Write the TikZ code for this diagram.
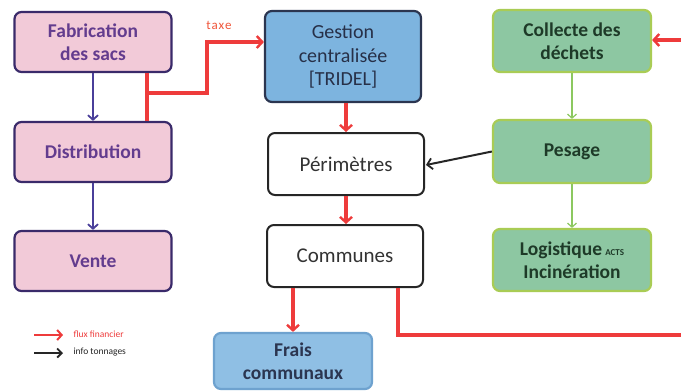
\documentclass[tikz,border=0pt]{standalone}
\usepackage{fontspec}
\setmainfont{Carlito}
\usetikzlibrary{arrows.meta}
\definecolor{pinkfill}{HTML}{F2CAD8}
\definecolor{pinkdraw}{HTML}{3A2A6A}
\definecolor{pinktext}{HTML}{633C8E}
\definecolor{bluefill}{HTML}{7DB4DF}
\definecolor{bluedraw}{HTML}{2B3550}
\definecolor{blue2fill}{HTML}{8FBFE4}
\definecolor{blue2draw}{HTML}{6EA2CF}
\definecolor{greenfill}{HTML}{8DC7A2}
\definecolor{greendraw}{HTML}{A9CC55}
\definecolor{greentext}{HTML}{1E3A28}
\definecolor{redline}{HTML}{EE3B3B}
\definecolor{taxecol}{HTML}{F0553A}
\definecolor{purpline}{HTML}{4A3F9A}
\definecolor{greenline}{HTML}{8CC860}
\begin{document}
\begin{tikzpicture}[x=1pt,y=-1pt,
  box/.style={rectangle, rounded corners=7pt, line width=2.2pt, align=center,
    minimum width=157pt, inner sep=2pt, font=\fontsize{20}{23.5}\selectfont},
  pinkbox/.style={box, fill=pinkfill, draw=pinkdraw, text=pinktext, font=\fontsize{19.5}{23}\selectfont\bfseries},
  bluebox/.style={box, fill=bluefill, draw=bluedraw, text=bluedraw!90!black},
  blue2box/.style={box, fill=blue2fill, draw=blue2draw, text=bluedraw, font=\fontsize{19.5}{23}\selectfont\bfseries},
  whitebox/.style={box, fill=white, draw=black!85, line width=2pt, text=black!80, font=\fontsize{21}{24}\selectfont},
  greenbox/.style={box, fill=greenfill, draw=greendraw, text=greentext, font=\fontsize{19.5}{23}\selectfont\bfseries},
  redarr/.style={draw=redline, line width=3.2pt, -{Straight Barb[length=5.5pt,width=12pt,line width=2.4pt]}},
  redline/.style={draw=redline, line width=3.2pt},
  purparr/.style={draw=purpline, line width=2.2pt, -{Straight Barb[length=4.5pt,width=10pt,line width=1.8pt]}},
  greenarr/.style={draw=greenline, line width=1.3pt, -{Straight Barb[length=4pt,width=9pt,line width=1.2pt]}},
  blackarr/.style={draw=black!85, line width=2pt, -{Straight Barb[length=5pt,width=11pt,line width=1.8pt]}},
]
\useasboundingbox (0,0) rectangle (681,391);
\fill[white] (0,0) rectangle (681,391);

% left column
\node[pinkbox, minimum height=60pt] (fab) at (93,42) {Fabrication\\des sacs};
\node[pinkbox, minimum height=60pt] (dist) at (93,152) {Distribution};
\node[pinkbox, minimum height=60pt] (vente) at (93,261) {Vente};

% middle column
\node[bluebox, minimum height=91pt, minimum width=156pt] (gest) at (343,56.5) {Gestion\\centralisée\\{[TRIDEL]}};
\node[whitebox, minimum height=62pt, minimum width=156pt] (peri) at (346,164) {Périmètres};
\node[whitebox, minimum height=62pt, minimum width=156pt] (comm) at (345,256) {Communes};
\node[blue2box, minimum height=56pt, minimum width=158pt] (frais) at (293,361) {Frais\\communaux};

% right column
\node[greenbox, minimum height=62pt, minimum width=158pt] (coll) at (572,41) {Collecte des\\déchets};
\node[greenbox, minimum height=63pt, minimum width=158pt] (pes) at (572,151.5) {Pesage};
\node[greenbox, minimum height=62pt, minimum width=158pt] (logi) at (572,260) {Logistique\,{\fontsize{9}{9}\selectfont ACTS}\\Incinération};

% purple arrows
\draw[purparr] (fab.south) -- (dist.north);
\draw[purparr] (dist.south) -- (vente.north);

% red tax line
\draw[redline] ([xshift=54pt]fab.south) -- ([xshift=54pt]dist.north);
\coordinate (t1) at (147,93);
\coordinate (t2) at (207,93);
\coordinate (t3) at (207,42);
\draw[redarr] (t1) -- (t2) -- (t3) -- (t3 -| gest.west);
\node[text=taxecol, font=\fontsize{13}{13}\selectfont, anchor=base] (taxe) at (219,29) {t\kern0.8pt a\kern0.8pt x\kern0.8pt e};

% red vertical middle
\draw[redarr] (gest.south -| peri.north) -- (peri.north);
\draw[redarr] (peri.south) -- (comm.north -| peri.south);
\draw[redarr] (comm.south -| frais.north) -- (frais.north);
\coordinate (c1) at (398,335);
\coordinate (c2) at (681,335);
\draw[redline] (comm.south -| c1) -- (c1) -- (c2);
\coordinate (r1) at (681,40);
\draw[redarr] (r1) -- (r1 -| coll.east);

% green arrows
\draw[greenarr] (coll.south) -- (pes.north);
\draw[greenarr] (pes.south) -- (logi.north);

% black arrow
\coordinate (p1) at (426,165);
\draw[blackarr] (pes.west) -- (p1);

% legend
\coordinate (l1) at (34,335);
\coordinate (l2) at (63,335);
\coordinate (l3) at (34,353);
\coordinate (l4) at (63,353);
\draw[redline, line width=2.6pt, -{Straight Barb[length=4.5pt,width=10pt,line width=2pt]}] (l1) -- (l2);
\draw[draw=black!85, line width=2pt, -{Straight Barb[length=4.5pt,width=9pt,line width=1.8pt]}] (l3) -- (l4);
\node[text=redline, font=\fontsize{9.5}{10}\selectfont, anchor=west] (lg1) at (70,334) {flux financier};
\node[text=black!85, font=\fontsize{9.5}{10}\selectfont, anchor=west] (lg2) at (70,352) {info tonnages};
\end{tikzpicture}
\end{document}
